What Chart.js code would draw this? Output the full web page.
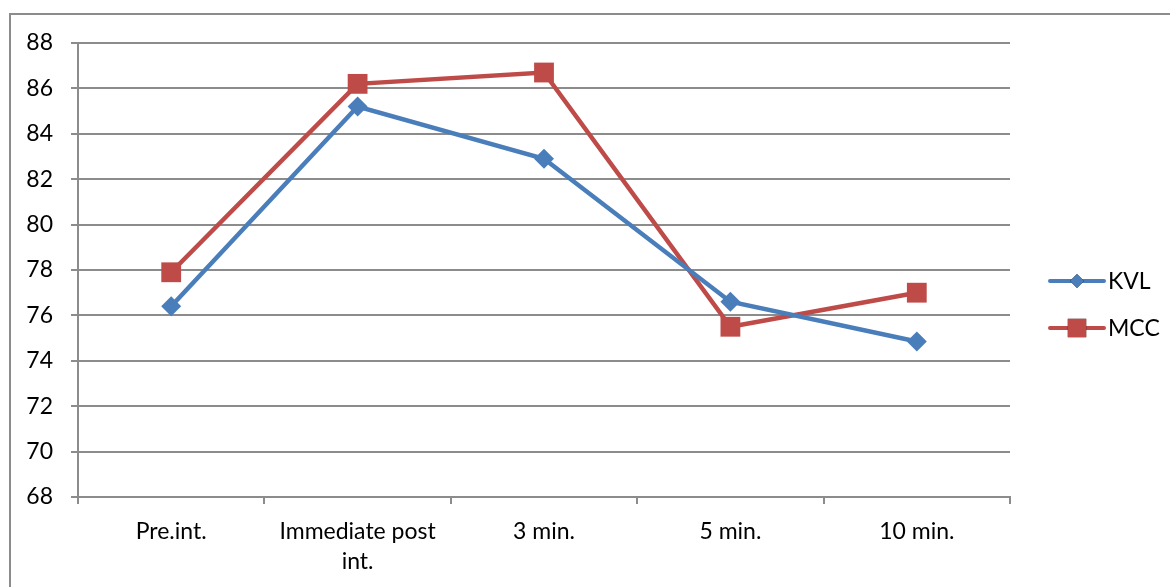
<!DOCTYPE html>
<html>
<head>
<meta charset="utf-8">
<script src="https://cdn.jsdelivr.net/npm/chart.js@4/dist/chart.umd.min.js"></script>
<style>
  html, body { margin: 0; padding: 0; background: #fff; }
  #wrap { width: 1170px; height: 587px; position: relative; }
</style>
</head>
<body>
<div id="wrap"><canvas id="c" width="1170" height="587"></canvas></div>
<script>
// Time points and the two measured series
const categories = ['Pre.int.', ['Immediate post', 'int.'], '3 min.', '5 min.', '10 min.'];
const kvlValues = [76.4, 85.2, 82.9, 76.6, 74.85];
const mccValues = [77.9, 86.2, 86.7, 75.5, 77.0];
const yTicks = [68, 70, 72, 74, 76, 78, 80, 82, 84, 86, 88];

const FONT = 'Lato, "DejaVu Sans", sans-serif';
const FONT_SIZE = 23;
const BLUE = '#4a7ebb';
const RED = '#be4b48';
const GRID = '#8c8c8c';

// Outer frame plus a line-and-marker legend on the right
const framePlugin = {
  id: 'frameAndLegend',
  afterDraw(chart) {
    const ctx = chart.ctx;
    ctx.save();
    ctx.strokeStyle = '#8c8c8c';
    ctx.lineWidth = 2;
    ctx.beginPath();
    ctx.moveTo(10, 587);
    ctx.lineTo(10, 14);
    ctx.lineTo(1170, 14);
    ctx.stroke();

    const rows = [
      { y: 281, ds: chart.data.datasets[0], r: 7 },
      { y: 328, ds: chart.data.datasets[1], r: 13 }
    ];
    rows.forEach(row => {
      ctx.strokeStyle = row.ds.borderColor;
      ctx.lineWidth = 4;
      ctx.lineCap = 'round';
      ctx.beginPath();
      ctx.moveTo(1050, row.y);
      ctx.lineTo(1104, row.y);
      ctx.stroke();
      Chart.helpers.drawPoint(ctx, {
        pointStyle: row.ds.pointStyle,
        radius: row.r,
        rotation: 0,
        borderWidth: 0
      }, 1077, row.y);
      ctx.fillStyle = row.ds.backgroundColor;
      ctx.fill();
      ctx.fillStyle = '#000';
      ctx.font = FONT_SIZE + 'px ' + FONT;
      ctx.textAlign = 'left';
      ctx.textBaseline = 'middle';
      ctx.fillText(row.ds.label, 1108, row.y + 1);
    });
    ctx.restore();
  }
};

new Chart(document.getElementById('c'), {
  type: 'line',
  data: {
    labels: categories,
    datasets: [
      {
        label: 'KVL',
        data: kvlValues,
        borderColor: BLUE,
        backgroundColor: BLUE,
        borderWidth: 4.5,
        pointStyle: 'rectRot',
        pointRadius: 10,
        pointHoverRadius: 10,
        pointBorderWidth: 0,
        tension: 0
      },
      {
        label: 'MCC',
        data: mccValues,
        borderColor: RED,
        backgroundColor: RED,
        borderWidth: 4.5,
        pointStyle: 'rect',
        pointRadius: 14,
        pointHoverRadius: 14,
        pointBorderWidth: 0,
        tension: 0
      }
    ]
  },
  options: {
    responsive: false,
    animation: false,
    events: [],
    layout: { padding: { left: 0, right: 160, top: 43, bottom: 0 } },
    plugins: {
      legend: { display: false },
      tooltip: { enabled: false }
    },
    scales: {
      x: {
        offset: true,
        grid: {
          offset: true,
          drawOnChartArea: false,
          drawTicks: true,
          tickLength: 7,
          color: GRID,
          lineWidth: 2
        },
        border: { color: GRID, width: 2 },
        ticks: {
          color: '#000',
          font: { family: FONT, size: FONT_SIZE, lineHeight: 1.3 },
          padding: 13,
          maxRotation: 0,
          autoSkip: false
        },
        afterFit(scale) { scale.height = 90; }
      },
      y: {
        min: 68,
        max: 88,
        afterBuildTicks(scale) { scale.ticks = yTicks.map(v => ({ value: v })); },
        grid: {
          color: GRID,
          lineWidth: 2,
          tickLength: 7
        },
        border: { color: GRID, width: 2 },
        ticks: {
          color: '#000',
          font: { family: FONT, size: FONT_SIZE },
          padding: 18
        },
        afterFit(scale) { scale.width = 78; }
      }
    }
  },
  plugins: [framePlugin]
});
</script>
</body>
</html>
